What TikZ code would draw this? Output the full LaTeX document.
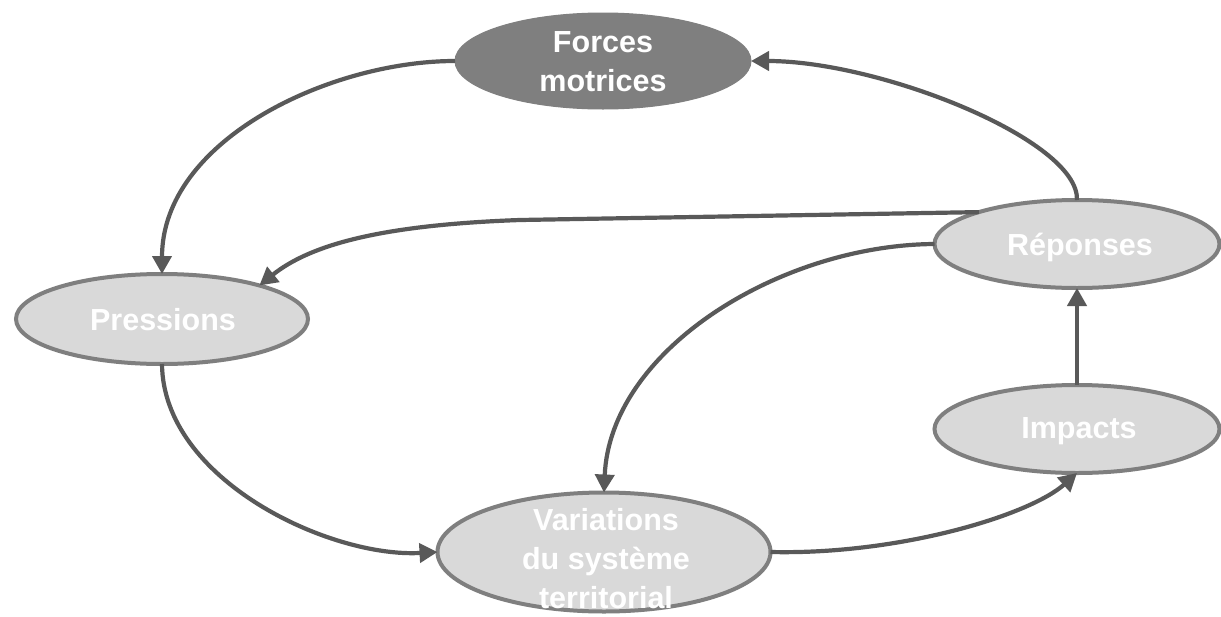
\documentclass[tikz,border=0pt]{standalone}
\usepackage{fontspec}
\setmainfont{Liberation Sans}
\usetikzlibrary{shapes.geometric,arrows.meta}
\definecolor{darkfill}{HTML}{7F7F7F}
\definecolor{lightfill}{HTML}{D9D9D9}
\definecolor{rimcol}{HTML}{7F7F7F}
\definecolor{arrowcol}{HTML}{595959}
\tikzset{
  ellbox/.style={ellipse, fill=lightfill, draw=rimcol, line width=4pt, inner sep=0pt, outer sep=0pt},
  darkbox/.style={ellipse, fill=darkfill, draw=darkfill, line width=1pt, inner sep=0pt, outer sep=0pt},
  lbl/.style={text=white, font=\fontsize{30.5}{39}\selectfont\bfseries, align=center, inner sep=0pt},
  conn/.style={draw=arrowcol, line width=4.2pt, -{Triangle[length=18pt,width=19pt]}},
}
\begin{document}
\begin{tikzpicture}[x=1pt,y=-1pt]
\useasboundingbox (0,0) rectangle (1221,616);
\fill[white] (0,0) rectangle (1221,616);
% nodes
\node[darkbox, minimum width=296, minimum height=96] (F) at (603,61) {};
\node[lbl] (Ft) at (603,62) {Forces\\motrices};
\node[ellbox, minimum width=292, minimum height=90] (P) at (162,319) {};
\node[lbl] (Pt) at (163,320) {Pressions};
\node[ellbox, minimum width=285, minimum height=88] (R) at (1077,244) {};
\node[lbl] (Rt) at (1080,247) {Réponses};
\node[ellbox, minimum width=285, minimum height=88] (I) at (1077,429) {};
\node[lbl] (It) at (1079,431) {Impacts};
\node[ellbox, minimum width=333, minimum height=119] (V) at (604,552) {};
\node[lbl] (Vt) at (606,559) {Variations\\du système\\territorial};
% connectors
\coordinate (k3) at (520,220);
\draw[conn] (F.west) .. controls (330,61) and (162,140) .. (P.north);
\draw[conn] (R.north) .. controls (1079,140) and (880,61) .. (F.east);
\draw[conn] (R.162) -- (k3) .. controls (380,225) and (310,245) .. (P.19);
\draw[conn] (R.west) .. controls (780,245) and (610,350) .. (V.north);
\draw[conn] (P.south) .. controls (163,480) and (330,558) .. (V.west);
\draw[conn] (V.east) .. controls (900,555) and (1030,515) .. (I.south);
\draw[conn] (I.north) -- (R.south);
\end{tikzpicture}
\end{document}
